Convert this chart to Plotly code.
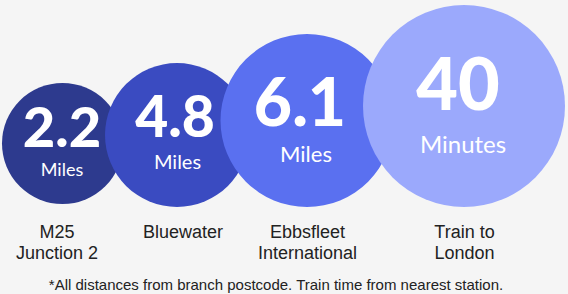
import plotly.graph_objects as go

# ---- data ----
values = ["2.2", "4.8", "6.1", "40"]
units = ["Miles", "Miles", "Miles", "Minutes"]
label_line1 = ["M25", "Bluewater", "Ebbsfleet", "Train to"]
label_line2 = ["Junction 2", "", "International", "London"]
footnote = "*All distances from branch postcode. Train time from nearest station."

# ---- layout constants (pixel space) ----
W, H = 568, 294
cx = [62.5, 177, 307, 464]
cy = [143.5, 135, 120.5, 106]
r = [60.5, 72, 86.5, 101]
colors = ["#2d3a8e", "#3a4bc1", "#5a70f0", "#9ba9fc"]
num_x = [62, 175, 300, 458]
num_y = [133, 122.5, 109, 92]
num_size = [56, 57, 66, 72]
unit_x = [62, 177.5, 306, 463]
unit_y = [171, 163.5, 156, 146.5]
unit_size = [18, 20, 22, 24]
label_x = [57, 183, 307.5, 464.5]
label_y1, label_y2 = 233.5, 254.5
foot_x, foot_y = 276, 286

fig = go.Figure()

shapes = []
for i in range(len(values)):
    shapes.append(dict(type="circle", xref="x", yref="y",
                       x0=cx[i] - r[i], x1=cx[i] + r[i],
                       y0=cy[i] - r[i], y1=cy[i] + r[i],
                       fillcolor=colors[i], line=dict(width=0), layer="below"))

fig.add_trace(go.Scatter(x=num_x, y=num_y, mode="text", text=values,
                         textposition="middle center",
                         textfont=dict(family="Lato", size=num_size, color="white", weight=900),
                         hoverinfo="skip", showlegend=False))
fig.add_trace(go.Scatter(x=unit_x, y=unit_y, mode="text", text=units,
                         textposition="middle center",
                         textfont=dict(family="Lato", size=unit_size, color="white"),
                         hoverinfo="skip", showlegend=False))
fig.add_trace(go.Scatter(x=label_x, y=[label_y1] * 4, mode="text", text=label_line1,
                         textposition="middle center",
                         textfont=dict(family="Liberation Sans", size=18, color="#222222"),
                         hoverinfo="skip", showlegend=False))
fig.add_trace(go.Scatter(x=label_x, y=[label_y2] * 4, mode="text", text=label_line2,
                         textposition="middle center",
                         textfont=dict(family="Liberation Sans", size=18, color="#222222"),
                         hoverinfo="skip", showlegend=False))
fig.add_trace(go.Scatter(x=[foot_x], y=[foot_y], mode="text", text=[footnote],
                         textposition="middle center",
                         textfont=dict(family="Liberation Sans", size=15, color="#222222"),
                         hoverinfo="skip", showlegend=False))

fig.update_layout(
    width=W, height=H, autosize=False,
    margin=dict(l=0, r=0, t=0, b=0),
    paper_bgcolor="#f5f5f5", plot_bgcolor="#f5f5f5",
    shapes=shapes,
    xaxis=dict(range=[0, W], visible=False, fixedrange=True),
    yaxis=dict(range=[H, 0], visible=False, fixedrange=True),
)

fig.write_html("out.html", config={"displayModeBar": False},
               post_script="document.body.style.margin='0';document.body.style.background='#f5f5f5';")
